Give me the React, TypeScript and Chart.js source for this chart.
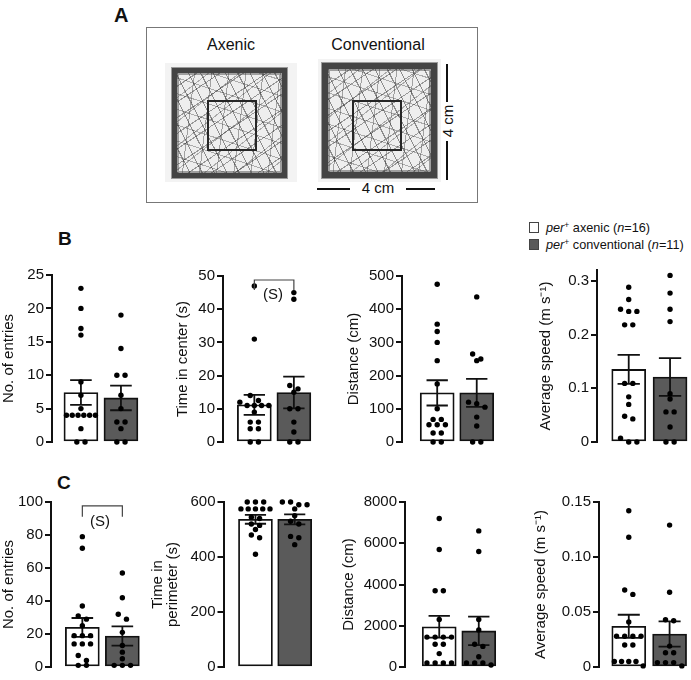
import React, { useEffect, useRef } from 'react';
import { Chart, registerables } from 'chart.js';

Chart.register(...registerables);

const FONT = "'Liberation Sans', Arial, Helvetica, sans-serif";

// ---------- DATA ----------
// Panel B (centre zone)
const bEntriesAxenic = [23, 20, 17, 16, 9, 7, 5, 4, 4, 4, 4, 4, 4, 2, 0, 0];
const bEntriesConv = [19, 14, 10, 10, 7, 5, 3, 3, 2, 0, 0];
const bEntriesMean = [7.4, 6.6];
const bEntriesSem = [1.85, 1.85];

const bTimeAxenic = [47, 31, 14, 12.5, 12, 11, 11, 11, 11, 9, 6, 6, 4, 4, 0, 0];
const bTimeConv = [45, 43, 17, 16, 15, 10, 10, 6, 3, 0, 0];
const bTimeMean = [11.2, 14.9];
const bTimeSem = [3.0, 4.8];

const bDistAxenic = [475, 355, 333, 300, 245, 175, 100, 68, 68, 52, 52, 52, 27, 27, 0, 0];
const bDistConv = [437, 265, 250, 245, 120, 115, 105, 75, 48, 0, 0];
const bDistMean = [148, 148];
const bDistSem = [38, 42];

const bSpeedAxenic = [0.288, 0.265, 0.247, 0.243, 0.243, 0.218, 0.218, 0.109, 0.109, 0.084, 0.07, 0.048, 0.043, 0.007, 0, 0];
const bSpeedConv = [0.31, 0.277, 0.247, 0.224, 0.09, 0.08, 0.056, 0.056, 0.028, 0, 0];
const bSpeedMean = [0.135, 0.121];
const bSpeedSem = [0.027, 0.035];

// Panel C (perimeter zone)
const cEntriesAxenic = [79, 72, 37, 31, 29, 25, 19, 19, 19, 14, 14, 14, 7, 4, 1, 1];
const cEntriesConv = [57, 42, 32, 29, 21, 13, 9, 5, 1, 1, 1];
const cEntriesMean = [24, 18.8];
const cEntriesSem = [5.7, 5.8];

const cTimeAxenic = [600, 600, 600, 575, 575, 575, 575, 575, 545, 540, 520, 515, 500, 480, 470, 410];
const cTimeConv = [600, 600, 590, 590, 575, 550, 530, 520, 475, 470, 445];
const cTimeMean = [537, 537];
const cTimeSem = [16, 18];

const cDistAxenic = [7200, 5700, 3700, 3700, 2300, 1450, 1450, 1450, 1450, 1100, 1100, 650, 200, 200, 200, 200];
const cDistConv = [6600, 5600, 2300, 1800, 1100, 1000, 500, 200, 200, 200, 100];
const cDistMean = [1950, 1750];
const cDistSem = [530, 690];

const cSpeedAxenic = [0.142, 0.118, 0.07, 0.066, 0.041, 0.028, 0.028, 0.028, 0.028, 0.02, 0.02, 0.005, 0.005, 0.005, 0.005, 0.001];
const cSpeedConv = [0.129, 0.068, 0.043, 0.042, 0.019, 0.013, 0.013, 0.004, 0.004, 0.004, 0.001];
const cSpeedMean = [0.037, 0.03];
const cSpeedSem = [0.0105, 0.0115];

const intLabel = (v: number) => String(Math.round(v));
const dec1Label = (v: number) => (v === 0 ? '0' : v.toFixed(1));
const dec2Label = (v: number) => (v === 0 ? '0' : v.toFixed(2));

type Spec = {
  id: string;
  title: string | string[];
  titleLH?: number;
  axenic: number[];
  conv: number[];
  mean: number[];
  sem: number[];
  yMax: number;
  yStep: number;
  tick: (v: number) => string;
  sig?: { top: number; end: number; labelX: number; labelY: number };
  layout: { titleX: number; axisX: number; c0: number; sp?: number; top: number; bottom: number };
};

const specs: Spec[] = [
  { id: 'b1', title: 'No. of entries', axenic: bEntriesAxenic, conv: bEntriesConv, mean: bEntriesMean, sem: bEntriesSem, yMax: 25, yStep: 5, tick: intLabel,
    layout: { titleX: 9, axisX: 52, c0: 82, top: 275, bottom: 442 } },
  { id: 'b2', title: 'Time in center (s)', axenic: bTimeAxenic, conv: bTimeConv, mean: bTimeMean, sem: bTimeSem, yMax: 50, yStep: 10, tick: intLabel,
    sig: { top: 48.8, end: 45.8, labelX: 0.47, labelY: 44.3 },
    layout: { titleX: 183, axisX: 223, c0: 255.5, sp: 41, top: 276, bottom: 442 } },
  { id: 'b3', title: 'Distance (cm)', axenic: bDistAxenic, conv: bDistConv, mean: bDistMean, sem: bDistSem, yMax: 500, yStep: 100, tick: intLabel,
    layout: { titleX: 354, axisX: 402, c0: 438.5, sp: 41, top: 276, bottom: 442 } },
  { id: 'b4', title: 'Average speed (m s\u207B\u00B9)', axenic: bSpeedAxenic, conv: bSpeedConv, mean: bSpeedMean, sem: bSpeedSem, yMax: 0.32, yStep: 0.1, tick: dec1Label,
    layout: { titleX: 546, axisX: 597, c0: 630, sp: 43, top: 270, bottom: 442 } },
  { id: 'c1', title: 'No. of entries', axenic: cEntriesAxenic, conv: cEntriesConv, mean: cEntriesMean, sem: cEntriesSem, yMax: 100, yStep: 20, tick: intLabel,
    sig: { top: 97.6, end: 91, labelX: 0.44, labelY: 88 },
    layout: { titleX: 9, axisX: 51, c0: 83.5, top: 502, bottom: 667 } },
  { id: 'c2', title: ['Time in', 'perimeter (s)'], titleLH: 15, axenic: cTimeAxenic, conv: cTimeConv, mean: cTimeMean, sem: cTimeSem, yMax: 600, yStep: 200, tick: intLabel,
    layout: { titleX: 157, axisX: 223, c0: 256, sp: 40.5, top: 502, bottom: 667 } },
  { id: 'c3', title: 'Distance (cm)', axenic: cDistAxenic, conv: cDistConv, mean: cDistMean, sem: cDistSem, yMax: 8000, yStep: 2000, tick: intLabel,
    layout: { titleX: 349, axisX: 405, c0: 440.5, sp: 41, top: 502, bottom: 667 } },
  { id: 'c4', title: 'Average speed (m s\u207B\u00B9)', axenic: cSpeedAxenic, conv: cSpeedConv, mean: cSpeedMean, sem: cSpeedSem, yMax: 0.15, yStep: 0.05, tick: dec2Label,
    layout: { titleX: 541, axisX: 599, c0: 630, sp: 42.5, top: 502, bottom: 667 } },
];

// beeswarm placement of dots (deterministic)
function swarm(values: number[], center: number, yPx: number, xPx: number) {
  const sorted = [...values].sort((a, b) => b - a);
  const rows: number[][] = [];
  for (const v of sorted) {
    const row = rows[rows.length - 1];
    if (row && (row[0] - v) * yPx < 5) row.push(v);
    else rows.push([v]);
  }
  const pts: { x: number; y: number }[] = [];
  rows.forEach((row) => {
    const n = row.length;
    const stepPx = n > 1 ? Math.min(8.5, 30 / (n - 1)) : 0;
    row.forEach((v, i) => pts.push({ x: center + ((i - (n - 1) / 2) * stepPx) / xPx, y: v }));
  });
  return pts;
}

function PanelChart({ spec }: { spec: Spec }) {
  const ref = useRef<HTMLCanvasElement>(null);
  const L = spec.layout;
  const sp = L.sp ?? 41.5;
  const titleLH = spec.titleLH ?? 18;
  const canvasLeft = L.titleX - titleLH / 2;
  const yAxisW = L.axisX - canvasLeft;
  const plotW = Math.min(112, 700 - L.axisX);
  const xMin = -(L.c0 - L.axisX) / sp;
  const xMax = xMin + plotW / sp;
  const padTop = 15;
  const padBottom = 12;
  const plotH = L.bottom - L.top;
  const width = Math.round(yAxisW + plotW);
  const height = plotH + padTop + padBottom;

  useEffect(() => {
    const yPx = plotH / spec.yMax;
    const cap = 0.27;
    const err: { x: number; y: number | null }[] = [];
    [0, 1].forEach((i) => {
      const lo = spec.mean[i] - spec.sem[i];
      const hi = spec.mean[i] + spec.sem[i];
      err.push(
        { x: i, y: lo }, { x: i, y: hi }, { x: i, y: null },
        { x: i - cap, y: hi }, { x: i + cap, y: hi }, { x: i, y: null },
        { x: i - cap, y: lo }, { x: i + cap, y: lo }, { x: i, y: null }
      );
    });
    const dots = [...swarm(spec.axenic, 0, yPx, sp), ...swarm(spec.conv, 1, yPx, sp)];
    const datasets: any[] = [
      {
        type: 'bar',
        data: [{ x: 0, y: spec.mean[0] }, { x: 1, y: spec.mean[1] }],
        backgroundColor: ['#ffffff', '#5a5a5a'],
        borderColor: '#111',
        borderWidth: 1.8,
        borderSkipped: false,
        barThickness: 34,
        order: 3,
      },
      {
        type: 'line',
        data: err,
        borderColor: '#111',
        borderWidth: 1.8,
        pointRadius: 0,
        fill: false,
        tension: 0,
        spanGaps: false,
        clip: false,
        order: 2,
      },
      {
        type: 'scatter',
        data: dots,
        pointRadius: 2.7,
        pointBackgroundColor: '#000',
        pointBorderWidth: 0,
        clip: false,
        order: 1,
      },
    ];
    if (spec.sig) {
      const s = spec.sig;
      datasets.push({
        type: 'line',
        data: [{ x: 0, y: s.end }, { x: 0, y: s.top }, { x: 1, y: s.top }, { x: 1, y: s.end }],
        borderColor: '#444',
        borderWidth: 1.2,
        pointRadius: 0,
        fill: false,
        tension: 0,
        clip: false,
        order: 0,
      });
    }
    const sigPlugin = {
      id: 'sigLabel',
      afterDatasetsDraw(chart: any) {
        if (!spec.sig) return;
        const { ctx, scales } = chart;
        ctx.save();
        ctx.font = `15px ${FONT}`;
        ctx.fillStyle = '#111';
        ctx.textAlign = 'center';
        ctx.textBaseline = 'middle';
        ctx.fillText('(S)', scales.x.getPixelForValue(spec.sig.labelX), scales.y.getPixelForValue(spec.sig.labelY));
        ctx.restore();
      },
    };
    const step = spec.yStep;
    const yMax = spec.yMax;
    const chart = new Chart(ref.current as HTMLCanvasElement, {
      type: 'bar',
      data: { datasets },
      plugins: [sigPlugin],
      options: {
        responsive: false,
        animation: false,
        devicePixelRatio: 1,
        layout: { padding: { top: padTop, bottom: padBottom, left: 0, right: 0 } },
        plugins: { legend: { display: false }, tooltip: { enabled: false } },
        scales: {
          x: { type: 'linear', min: xMin, max: xMax, display: false, offset: false },
          y: {
            type: 'linear',
            min: 0,
            max: yMax,
            afterFit: (s: any) => { s.width = yAxisW; },
            afterBuildTicks: (s: any) => {
              const t: { value: number }[] = [];
              for (let k = 0; k * step <= yMax + 1e-9; k++) t.push({ value: +(k * step).toFixed(6) });
              s.ticks = t;
            },
            ticks: {
              stepSize: step,
              includeBounds: false,
              color: '#111',
              font: { family: FONT, size: 15 },
              padding: 2,
              callback: (v: any) => spec.tick(Number(v)),
            },
            grid: { display: true, drawOnChartArea: false, drawTicks: true, tickLength: 6, color: '#111', lineWidth: 2 },
            border: { display: true, color: '#111', width: 2 },
            title: {
              display: true,
              text: spec.title as any,
              color: '#111',
              padding: 0,
              font: { family: FONT, size: 15, lineHeight: titleLH / 15 },
            },
          },
        },
      } as any,
    });
    return () => chart.destroy();
  }, []);

  return (
    <canvas
      ref={ref}
      width={width}
      height={height}
      style={{ position: 'absolute', left: canvasLeft, top: L.top - padTop, width, height }}
    />
  );
}

const trackPattern =
  'repeating-linear-gradient(63deg, rgba(45,45,45,.5) 0 1px, transparent 1px 11px),' +
  'repeating-linear-gradient(-34deg, rgba(45,45,45,.45) 0 1px, transparent 1px 13px),' +
  'repeating-linear-gradient(97deg, rgba(45,45,45,.4) 0 1px, transparent 1px 17px),' +
  'repeating-linear-gradient(18deg, rgba(45,45,45,.35) 0 1px, transparent 1px 15px),' +
  'repeating-linear-gradient(142deg, rgba(45,45,45,.35) 0 1px, transparent 1px 19px)';

function Arena(p: { bg: number[]; tr: number[]; inner: number[]; band: number }) {
  return (
    <>
      <div style={{ position: 'absolute', left: p.bg[0], top: p.bg[1], width: p.bg[2], height: p.bg[3], background: '#f3f3f3' }} />
      <div
        style={{
          position: 'absolute', left: p.tr[0], top: p.tr[1], width: p.tr[2], height: p.tr[3], boxSizing: 'border-box',
          border: `${p.band}px solid #444`, boxShadow: '0 0 0 1px #9a9a9a, inset 0 0 0 2px rgba(60,60,60,.45)',
          backgroundColor: '#eeeeee', backgroundImage: trackPattern,
        }}
      />
      <div
        style={{
          position: 'absolute', left: p.inner[0], top: p.inner[1], width: p.inner[2], height: p.inner[3], boxSizing: 'border-box',
          border: '2.5px solid #262626',
        }}
      />
    </>
  );
}

const abs = (l: number, t: number, extra: React.CSSProperties = {}): React.CSSProperties => ({ position: 'absolute', left: l, top: t, ...extra });

export default function App() {
  return (
    <div style={{ position: 'absolute', left: 0, top: 0, width: 691, height: 680, overflow: 'hidden', background: '#fff', fontFamily: FONT, color: '#111' }}>
      {/* Panel letters */}
      <div style={abs(114, 5, { fontSize: 20, fontWeight: 'bold', lineHeight: '20px' })}>A</div>
      <div style={abs(58, 229, { fontSize: 19, fontWeight: 'bold', lineHeight: '19px' })}>B</div>
      <div style={abs(57, 473, { fontSize: 19, fontWeight: 'bold', lineHeight: '19px' })}>C</div>

      {/* Panel A */}
      <div style={abs(146, 27, { width: 332, height: 176, border: '1px solid #777', boxSizing: 'border-box' })} />
      <div style={abs(181, 37, { width: 100, textAlign: 'center', fontSize: 16, lineHeight: '16px' })}>Axenic</div>
      <div style={abs(318, 37, { width: 120, textAlign: 'center', fontSize: 16, lineHeight: '16px' })}>Conventional</div>
      <Arena bg={[165, 63, 132, 119]} tr={[172, 68, 115, 110]} inner={[207, 100, 50, 51]} band={5} />
      <Arena bg={[318, 59, 123, 123]} tr={[322, 63, 115, 115]} inner={[352, 100, 50, 51]} band={6} />
      {/* scale bars */}
      <div style={abs(446, 64, { width: 1.5, height: 38, background: '#111' })} />
      <div style={abs(446, 141, { width: 1.5, height: 39, background: '#111' })} />
      <div style={abs(418, 113, { width: 60, textAlign: 'center', fontSize: 15, lineHeight: '16px', transform: 'rotate(-90deg)' })}>4 cm</div>
      <div style={abs(317, 188, { width: 33, height: 1.5, background: '#111' })} />
      <div style={abs(406, 188, { width: 29, height: 1.5, background: '#111' })} />
      <div style={abs(348, 180, { width: 60, textAlign: 'center', fontSize: 15, lineHeight: '16px' })}>4 cm</div>

      {/* Legend */}
      <div style={abs(529, 222, { width: 10, height: 11, border: '1px solid #444', background: '#fff', boxSizing: 'border-box' })} />
      <div style={abs(546, 221, { fontSize: 12.7, lineHeight: '14px', whiteSpace: 'nowrap' })}>
        <i>per</i><span style={{ fontSize: 8.5, position: 'relative', top: -4 }}>+</span> axenic (<i>n</i>=16)
      </div>
      <div style={abs(529, 239, { width: 10, height: 11, border: '1px solid #444', background: '#5a5a5a', boxSizing: 'border-box' })} />
      <div style={abs(546, 238, { fontSize: 12.7, lineHeight: '14px', whiteSpace: 'nowrap' })}>
        <i>per</i><span style={{ fontSize: 8.5, position: 'relative', top: -4 }}>+</span> conventional (<i>n</i>=11)
      </div>

      {specs.map((s) => (
        <PanelChart key={s.id} spec={s} />
      ))}
    </div>
  );
}
